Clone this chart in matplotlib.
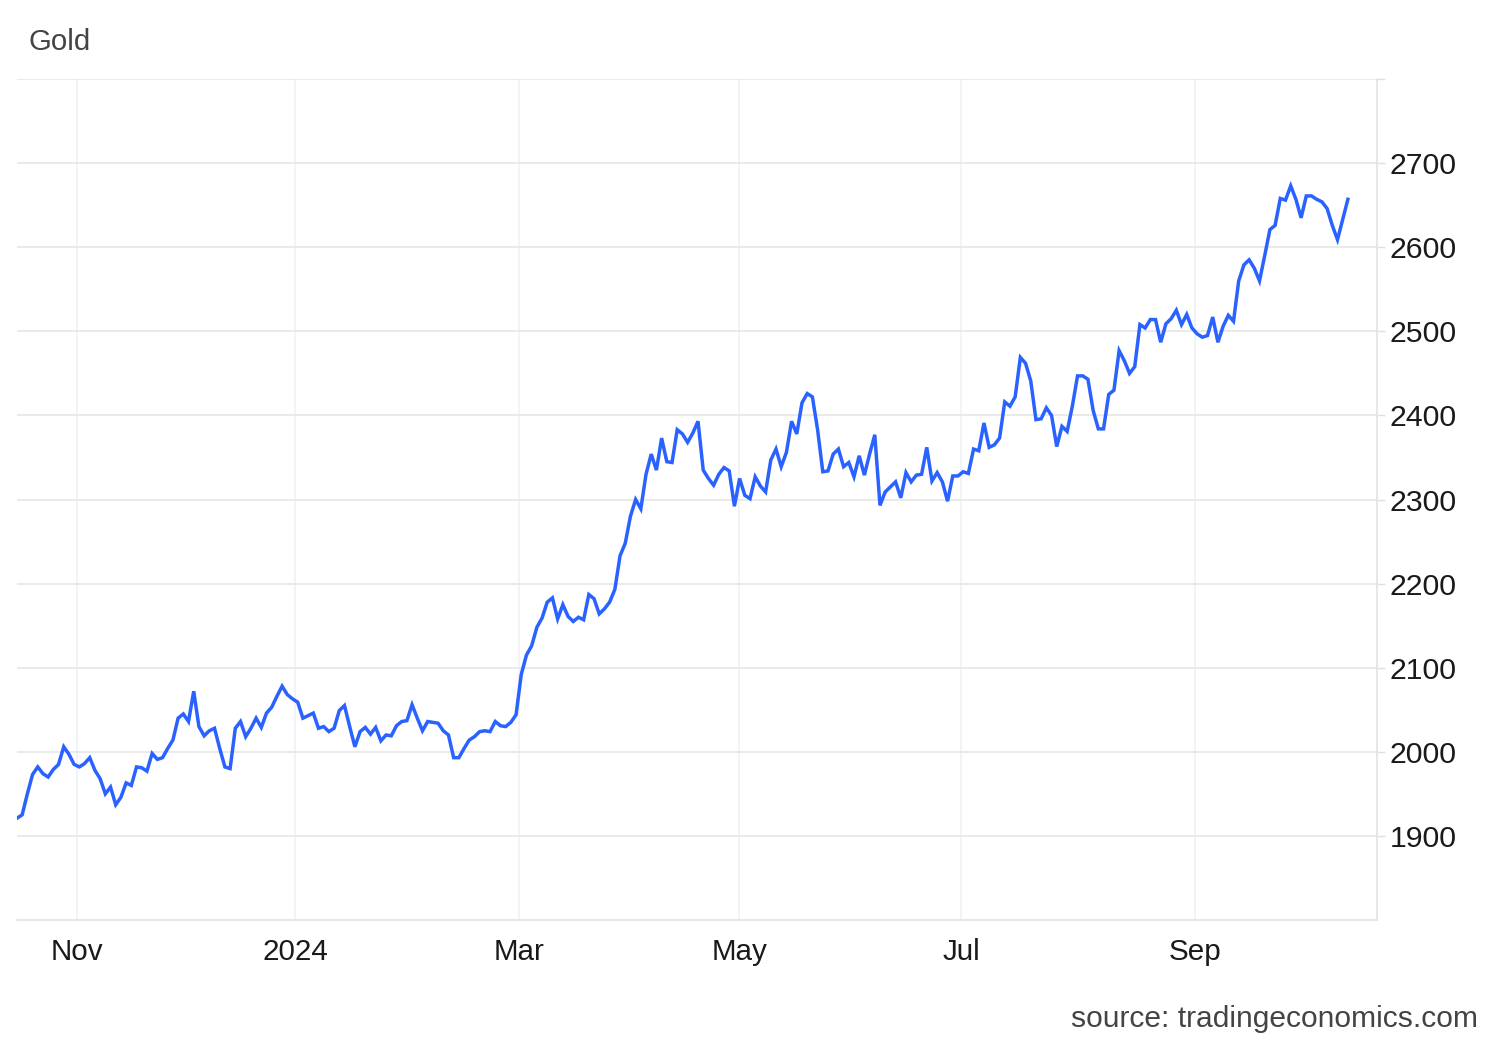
import numpy as np
import matplotlib
matplotlib.use("Agg")
import matplotlib.pyplot as plt

# Gold price, one value per trading day (mid Oct 2023 -> mid Oct 2024)
gold = [
    1921, 1925, 1950, 1973, 1982, 1974, 1970, 1979, 1985, 2006,
    1997, 1985, 1982, 1986, 1993, 1978, 1968, 1950, 1958, 1937,
    1946, 1963, 1960, 1982, 1981, 1977, 1998, 1991, 1993, 2004,
    2014, 2040, 2045, 2036, 2072, 2030, 2019, 2025, 2028, 2004,
    1982, 1980, 2028, 2036, 2018, 2028, 2040, 2029, 2046, 2053,
    2066, 2078, 2068, 2063, 2059, 2040, 2043, 2046, 2028, 2030,
    2024, 2028, 2049, 2055, 2030, 2006, 2024, 2029, 2021, 2029,
    2013, 2020, 2019, 2031, 2036, 2037, 2056, 2040, 2025, 2036,
    2035, 2034, 2025, 2020, 1993, 1993, 2004, 2014, 2018, 2024,
    2025, 2024, 2036, 2031, 2030, 2035, 2044, 2092, 2115, 2126,
    2148, 2159, 2178, 2183, 2158, 2175, 2161, 2155, 2160, 2157,
    2187, 2182, 2164, 2170, 2178, 2193, 2233, 2248, 2280, 2300,
    2289, 2330, 2354, 2335, 2373, 2345, 2344, 2383, 2378, 2368,
    2379, 2393, 2335, 2325, 2317, 2330, 2338, 2334, 2292, 2325,
    2305, 2301, 2327, 2316, 2309, 2347, 2360, 2339, 2356, 2393,
    2378, 2415, 2426, 2422, 2383, 2333, 2334, 2354, 2360, 2339,
    2344, 2327, 2352, 2329, 2354, 2377, 2293, 2309, 2315, 2321,
    2302, 2332, 2321, 2329, 2330, 2362, 2322, 2332, 2321, 2298,
    2328, 2328, 2333, 2331, 2360, 2358, 2391, 2362, 2365, 2373,
    2416, 2411, 2422, 2469, 2462, 2441, 2395, 2396, 2409, 2400,
    2363, 2387, 2381, 2411, 2447, 2447, 2443, 2406, 2384, 2384,
    2425, 2430, 2477, 2465, 2450, 2458, 2508, 2504, 2514, 2514,
    2487, 2509, 2515, 2525, 2508, 2520, 2504, 2497, 2493, 2495,
    2517, 2487, 2506, 2519, 2512, 2560, 2579, 2585, 2575, 2560,
    2590, 2621, 2626, 2658, 2656, 2673, 2657, 2635, 2661, 2661,
    2657, 2654, 2646, 2626, 2609, 2633, 2657,
]

# month boundaries (in trading-day index) and their labels
month_pos = [11.6, 53.5, 96.6, 138.9, 181.6, 226.6]
month_labels = ["Nov", "2024", "Mar", "May", "Jul", "Sep"]

y_ticks = [1900, 2000, 2100, 2200, 2300, 2400, 2500, 2600, 2700, 2800]
y_labels = ["1900", "2000", "2100", "2200", "2300", "2400", "2500", "2600", "2700", ""]

plt.rcParams['font.family'] = ['Liberation Sans', 'DejaVu Sans']

fig = plt.figure(figsize=(15, 10.4), dpi=100)
ax = fig.add_axes([0.0113, 0.1154, 0.9067, 0.8086])

x = np.arange(len(gold))
ax.plot(x, gold, color='#2962ff', linewidth=2.5, solid_joinstyle='miter', zorder=3)

ax.set_xlim(0, 261.6)
ax.set_ylim(1800, 2800)

# y axis on the right
ax.yaxis.tick_right()
ax.set_yticks(y_ticks)
ax.set_yticklabels(y_labels)
ax.tick_params(axis='y', length=6, width=1, color='#e0e0e0', pad=3,
               labelsize=21.8, labelcolor='#1a1a1a')
ax.grid(axis='y', color='#e6e6e6', linewidth=1.2)

# x axis: month ticks, no tick marks
ax.set_xticks(month_pos)
ax.set_xticklabels(month_labels)
ax.tick_params(axis='x', length=0, pad=13, labelsize=21.3, labelcolor='#1a1a1a')
ax.grid(axis='x', color='#eef1f6', linewidth=1.2)

for side in ['top', 'left']:
    ax.spines[side].set_visible(False)
for side in ['right', 'bottom']:
    ax.spines[side].set_color('#e3e3e3')
    ax.spines[side].set_linewidth(1.2)
ax.set_axisbelow(True)

fig.text(29 / 1500, 1 - 42 / 1040, "Gold", fontsize=21.2, color='#444444',
         ha='left', va='center')
fig.text(1478 / 1500, 1 - 1019 / 1040, "source: tradingeconomics.com", fontsize=21.6,
         color='#444444', ha='right', va='center')

fig.savefig("out.png", dpi=100)
